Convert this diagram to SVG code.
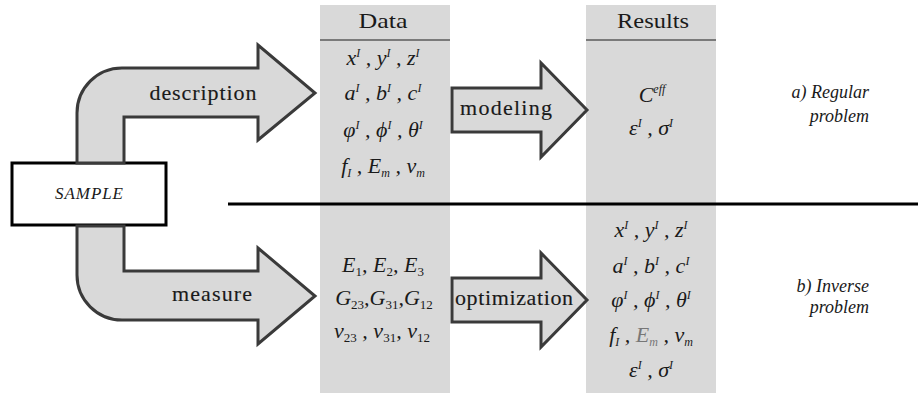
<svg xmlns="http://www.w3.org/2000/svg" width="918" height="393" viewBox="0 0 918 393">
<style>
.col{fill:#d9d9d9}
.hl{stroke:#7a7a7a;stroke-width:2}
.f{font-family:"Liberation Serif","Times New Roman",Times,"DejaVu Serif",serif}
.hd{font-size:22px;fill:#1a1a1a;text-anchor:middle}
.m{font-style:italic;font-size:22px;fill:#1a1a1a;text-anchor:middle}
.sup{font-size:12px}
.sub{font-size:13px;font-style:normal}
.subi{font-size:12px}
.arr{fill:#d9d9d9;stroke:#3a3a3a;stroke-width:3;stroke-linejoin:miter}
.lbl{font-size:22px;fill:#1a1a1a;text-anchor:middle;stroke:#1a1a1a;stroke-width:0.15}
.note{font-style:italic;font-size:18px;fill:#1a1a1a;text-anchor:end}
</style>
<rect x="0" y="0" width="918" height="393" fill="#ffffff"/>

<g id="data-column">
<rect class="col" x="320" y="5" width="130" height="388"/>
<line class="hl" x1="320" y1="40" x2="450" y2="40"/>
<text class="f hd" x="383" y="28" textLength="49" lengthAdjust="spacingAndGlyphs">Data</text>
<text class="f m" x="383" y="65">x<tspan class="sup" dy="-8">I</tspan><tspan dy="8"> , y</tspan><tspan class="sup" dy="-8">I</tspan><tspan dy="8"> , z</tspan><tspan class="sup" dy="-8">I</tspan></text>
<text class="f m" x="383" y="100">a<tspan class="sup" dy="-8">I</tspan><tspan dy="8"> , b</tspan><tspan class="sup" dy="-8">I</tspan><tspan dy="8"> , c</tspan><tspan class="sup" dy="-8">I</tspan></text>
<text class="f m" x="383" y="137">φ<tspan class="sup" dy="-8">I</tspan><tspan dy="8"> , ϕ</tspan><tspan class="sup" dy="-8">I</tspan><tspan dy="8"> , θ</tspan><tspan class="sup" dy="-8">I</tspan></text>
<text class="f m" x="383" y="173">f<tspan class="subi" dy="4">I</tspan><tspan dy="-4"> , E</tspan><tspan class="subi" dy="4">m</tspan><tspan dy="-4"> , ν</tspan><tspan class="subi" dy="4">m</tspan></text>
<text class="f m" x="383" y="272">E<tspan class="sub" dy="4">1</tspan><tspan dy="-4">, E</tspan><tspan class="sub" dy="4">2</tspan><tspan dy="-4">, E</tspan><tspan class="sub" dy="4">3</tspan></text>
<text class="f m" x="384" y="305">G<tspan class="sub" dy="4">23</tspan><tspan dy="-4">,G</tspan><tspan class="sub" dy="4">31</tspan><tspan dy="-4">,G</tspan><tspan class="sub" dy="4">12</tspan></text>
<text class="f m" x="382" y="338">ν<tspan class="sub" dy="4">23</tspan><tspan dy="-4"> , ν</tspan><tspan class="sub" dy="4">31</tspan><tspan dy="-4">, ν</tspan><tspan class="sub" dy="4">12</tspan></text>
</g>

<g id="results-column">
<rect class="col" x="586" y="5" width="130" height="388"/>
<line class="hl" x1="586" y1="40" x2="716" y2="40"/>
<text class="f hd" x="653" y="28" textLength="72" lengthAdjust="spacingAndGlyphs">Results</text>
<text class="f m" x="652" y="102">C<tspan class="sup" dy="-9">eff</tspan></text>
<text class="f m" x="651" y="135">ε<tspan class="sup" dy="-8">I</tspan><tspan dy="8"> , σ</tspan><tspan class="sup" dy="-8">I</tspan></text>
<text class="f m" x="651" y="237">x<tspan class="sup" dy="-8">I</tspan><tspan dy="8"> , y</tspan><tspan class="sup" dy="-8">I</tspan><tspan dy="8"> , z</tspan><tspan class="sup" dy="-8">I</tspan></text>
<text class="f m" x="651" y="273">a<tspan class="sup" dy="-8">I</tspan><tspan dy="8"> , b</tspan><tspan class="sup" dy="-8">I</tspan><tspan dy="8"> , c</tspan><tspan class="sup" dy="-8">I</tspan></text>
<text class="f m" x="651" y="307">φ<tspan class="sup" dy="-8">I</tspan><tspan dy="8"> , ϕ</tspan><tspan class="sup" dy="-8">I</tspan><tspan dy="8"> , θ</tspan><tspan class="sup" dy="-8">I</tspan></text>
<text class="f m" x="651" y="342">f<tspan class="subi" dy="4">I</tspan><tspan dy="-4"> , </tspan><tspan fill="#777">E</tspan><tspan class="subi" dy="4" fill="#777">m</tspan><tspan dy="-4"> , ν</tspan><tspan class="subi" dy="4">m</tspan></text>
<text class="f m" x="651" y="377">ε<tspan class="sup" dy="-8">I</tspan><tspan dy="8"> , σ</tspan><tspan class="sup" dy="-8">I</tspan></text>
</g>

<g id="divider">
<line x1="228" y1="204" x2="918" y2="204" stroke="#000" stroke-width="3"/>
</g>

<g id="sample">
<rect x="12" y="163" width="154" height="62" fill="#fff" stroke="#000" stroke-width="3"/>
<text class="f" x="89" y="199" font-style="italic" font-size="17" text-anchor="middle" textLength="68" fill="#1a1a1a">SAMPLE</text>
</g>

<g id="connectors">
<g id="arrow-description">
<path class="arr" d="M77,163 L77,113 A45,45 0 0 1 122,68 L258,68 L258,45 L315,93 L258,140 L258,117 L124,117 L124,163 Z"/>
<text class="f lbl" x="203" y="100" textLength="107">description</text>
</g>
<g id="arrow-measure">
<path class="arr" d="M77,226 L77,275 A45,45 0 0 0 122,320 L258,320 L258,344 L315,296 L258,248 L258,271 L124,271 L124,226 Z"/>
<text class="f lbl" x="212" y="301" textLength="80">measure</text>
</g>
<g id="arrow-modeling">
<path class="arr" d="M452,88 L541,88 L541,63 L587,110 L541,157 L541,132 L452,132 Z"/>
<text class="f lbl" x="506" y="115" textLength="92">modeling</text>
</g>
<g id="arrow-optimization">
<path class="arr" d="M452,278 L541,278 L541,253 L587,300 L541,347 L541,322 L452,322 Z"/>
<text class="f lbl" x="514" y="305" textLength="118">optimization</text>
</g>
</g>

<g id="label-regular">
<text class="f note" x="869" y="98">a) Regular</text>
<text class="f note" x="869" y="122">problem</text>
</g>
<g id="label-inverse">
<text class="f note" x="869" y="292">b) Inverse</text>
<text class="f note" x="869" y="313">problem</text>
</g>
</svg>
